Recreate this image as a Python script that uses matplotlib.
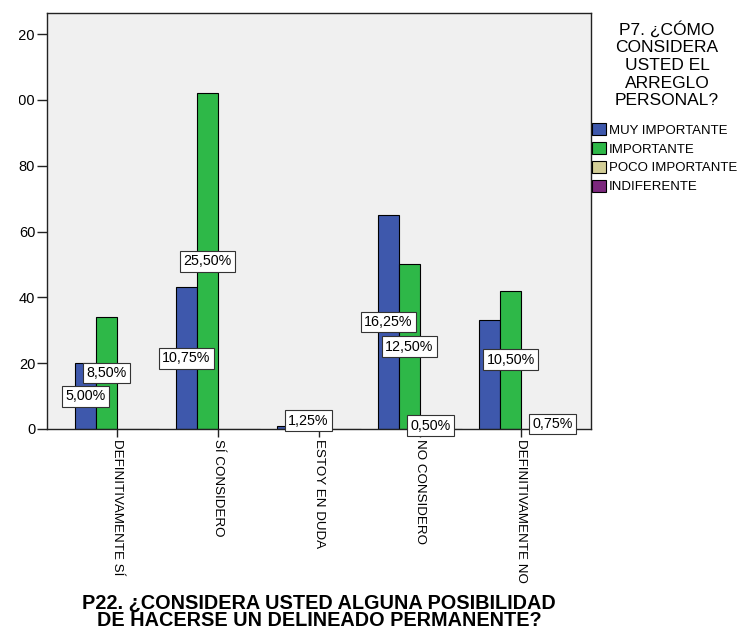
import matplotlib
matplotlib.use("Agg")
import matplotlib.pyplot as plt
from matplotlib.patches import Patch
from matplotlib.transforms import Bbox

plt.rcParams["font.family"] = ["Liberation Sans", "DejaVu Sans"]

# P22 answers (x axis) split by P7 answers (series), counts of respondents
categories = ["DEFINITIVAMENTE SÍ", "SÍ CONSIDERO", "ESTOY EN DUDA",
              "NO CONSIDERO", "DEFINITIVAMENTE NO"]
series_names = ["MUY IMPORTANTE", "IMPORTANTE", "POCO IMPORTANTE", "INDIFERENTE"]
muy_importante = [20, 43, 1, 65, 33]
importante = [34, 102, 5, 50, 42]
poco_importante = [0, 0, 0, 2, 0]
indiferente = [0, 0, 0, 0, 3]
y_ticks = [0, 20, 40, 60, 80, 100, 120]

series = [muy_importante, importante, poco_importante, indiferente]
colors = ["#3E58AC", "#2EB848", "#D3CE97", "#7C287D"]
total = sum(sum(s) for s in series)

W, H, DPI = 742, 631, 100
fig = plt.figure(figsize=(W / DPI, H / DPI), dpi=DPI)
ax = fig.add_axes([47 / W, 1 - 429 / H, 544 / W, 416 / H])
ax.set_facecolor("#F0F0F0")

bw = 0.208
offsets = [-1.5 * bw, -0.5 * bw, 0.5 * bw, 1.5 * bw]
xs = range(len(categories))

for vals, col, off in zip(series, colors, offsets):
    ax.bar([x + off for x in xs], vals, width=bw, color=col,
           edgecolor="black", linewidth=0.8, zorder=2)

ax.set_xlim(-0.693, 4.693)
ax.set_ylim(0, 126.4)
ax.set_yticks(y_ticks)
ax.set_yticklabels([str(t) for t in y_ticks], fontsize=10.5)
ax.set_xticks(list(xs))
ax.set_xticklabels(categories, rotation=-90, ha="center", va="top", fontsize=9.6)
ax.tick_params(axis="y", length=7, width=1, pad=1.5, color="#222222")
ax.tick_params(axis="x", length=6, width=1, pad=1, color="#222222")
for sp in ax.spines.values():
    sp.set_color("#222222")
    sp.set_linewidth(1)

# percentage labels in the middle of each bar; drop those that collide
labels = []
for vals, off in reversed(list(zip(series, offsets))):
    for x, v in zip(xs, vals):
        if v == 0:
            continue
        txt = f"{v / total * 100:.2f}".replace(".", ",") + "%"
        t = ax.text(x + off, v / 2, txt, ha="center", va="center", fontsize=10.3,
                    zorder=5, bbox=dict(boxstyle="square,pad=0.24", fc="white",
                                        ec="#333333", lw=0.8))
        labels.append(t)

fig.canvas.draw()
kept = []
for t in labels:
    bb = t.get_bbox_patch().get_window_extent().shrunk(0.95, 0.92)
    if any(bb.overlaps(k) for k in kept):
        t.remove()
    else:
        kept.append(bb)

# the leftmost digits of the long tick values run off the chart edge
clip = Bbox([[19, 0], [W, H]])
for lab in ax.get_yticklabels():
    lab.set_clip_box(clip)
    lab.set_clip_on(True)

# legend title and entries
fig.text(667 / W, 1 - 21 / H,
         "P7. ¿CÓMO\nCONSIDERA\nUSTED EL\nARREGLO\nPERSONAL?",
         ha="center", va="top", fontsize=12.5, linespacing=1.22,
         multialignment="center")

handles = [Patch(facecolor=c, edgecolor="black", linewidth=0.8) for c in colors]
fig.legend(handles, series_names,
           loc="upper left", bbox_to_anchor=(592 / W, 1 - 123 / H),
           frameon=False, fontsize=9.5,
           handlelength=1.05, handleheight=1.05, handletextpad=0.25,
           labelspacing=0.4, borderpad=0, borderaxespad=0)

fig.text(319 / W, 1 - 612 / H,
         "P22. ¿CONSIDERA USTED ALGUNA POSIBILIDAD\nDE HACERSE UN DELINEADO PERMANENTE?",
         ha="center", va="center", fontsize=14.3, fontweight="bold",
         linespacing=0.9)

fig.savefig("out.png", dpi=DPI)
